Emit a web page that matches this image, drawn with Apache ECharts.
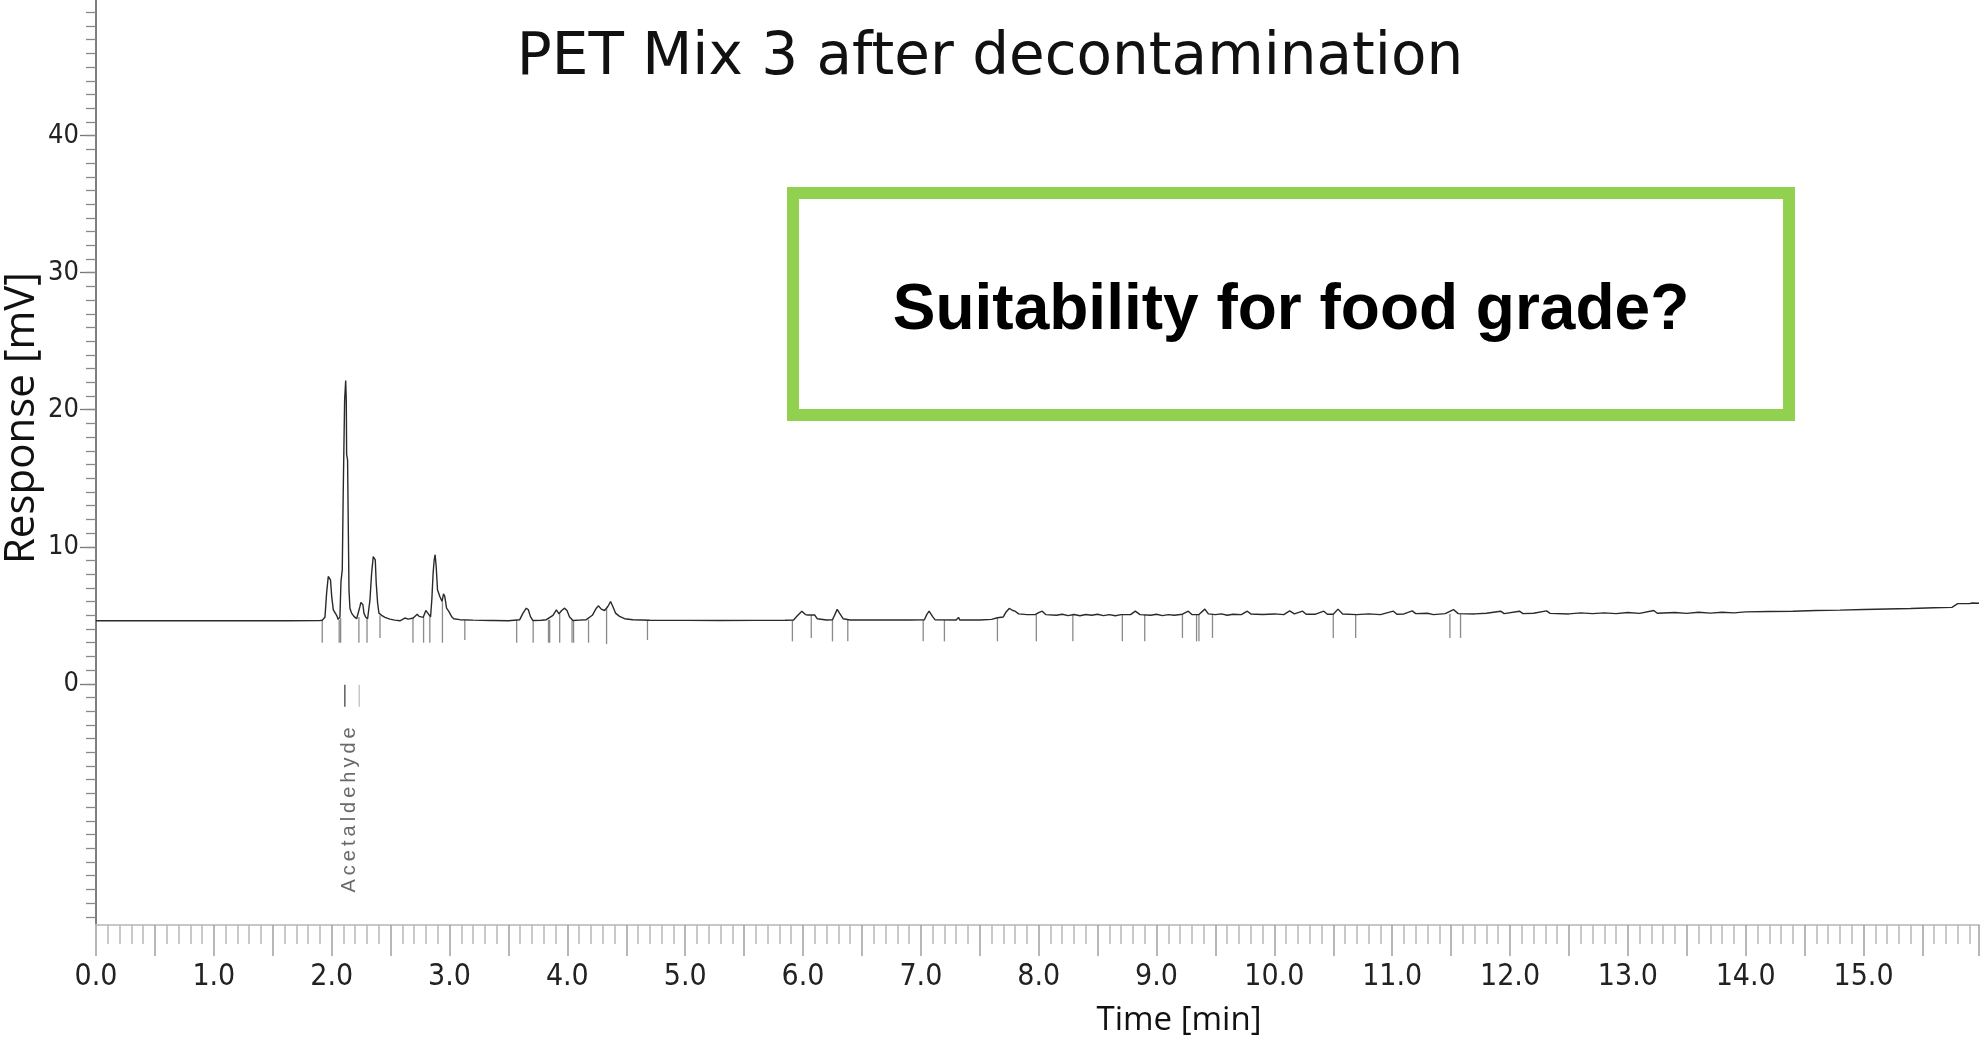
<!DOCTYPE html>
<html>
<head>
<meta charset="utf-8">
<title>PET Mix 3 after decontamination</title>
<script src="https://cdn.jsdelivr.net/npm/echarts@6.0.0/dist/echarts.min.js"></script>
<style>
  html, body { margin: 0; padding: 0; background: #fff; }
  #chart { width: 1982px; height: 1041px; }
</style>
</head>
<body>
<div id="chart"></div>
<script>
// chromatogram trace (time in min, response in mV)
const timeMin = [
  0, 0.25, 0.26, 0.27, 0.6, 0.61, 0.62, 0.95, 0.96, 0.97, 1.3, 1.31, 1.32, 1.6, 1.61, 1.62, 1.9,
  1.92, 1.943, 1.957, 1.971, 1.98, 1.99, 2.0, 2.014, 2.042, 2.055, 2.064,
  2.07, 2.079, 2.09, 2.098, 2.11, 2.119, 2.124, 2.127, 2.135, 2.141, 2.147, 2.155, 2.169, 2.189, 2.212,
  2.226, 2.24, 2.248, 2.257, 2.265, 2.274, 2.288, 2.305,
  2.313, 2.325, 2.339, 2.353, 2.361, 2.37, 2.378, 2.39, 2.401, 2.424, 2.452, 2.494, 2.536, 2.579, 2.621, 2.65,
  2.692, 2.726, 2.742, 2.777, 2.799, 2.816, 2.839,
  2.85, 2.861, 2.87, 2.878, 2.887, 2.898, 2.918, 2.937, 2.949, 2.96, 2.975, 2.994, 3.017, 3.036, 3.087,
  3.2, 3.35, 3.36, 3.37, 3.5,
  3.596, 3.624, 3.652, 3.669, 3.686, 3.708, 3.78,
  3.822, 3.878, 3.907, 3.929, 3.952, 3.977, 3.997, 4.019, 4.048, 4.1,
  4.161, 4.212, 4.246, 4.263, 4.288, 4.316, 4.344, 4.367, 4.386, 4.409, 4.443, 4.486, 4.556,
  4.7, 5.0, 5.3, 5.6, 5.85,
  5.92, 5.95, 5.99, 6.02, 6.04, 6.1, 6.12, 6.2,
  6.25, 6.27, 6.29, 6.31, 6.34, 6.4,
  6.9, 7.03, 7.05, 7.07, 7.1, 7.12,
  7.3, 7.32, 7.33, 7.5, 7.6, 7.65, 7.7,
  7.72, 7.75, 7.78, 7.8, 7.83, 7.9, 7.97, 8.0, 8.03, 8.06,
  8.15, 8.2, 8.25, 8.3, 8.35, 8.4, 8.45, 8.5, 8.55, 8.6, 8.65, 8.7, 8.78, 8.82, 8.86, 8.95,
  9.0, 9.05, 9.1, 9.15, 9.22, 9.27, 9.3, 9.36, 9.41, 9.44, 9.5, 9.55, 9.6, 9.65, 9.72, 9.77, 9.8, 9.9,
  10.0, 10.08, 10.13, 10.17, 10.24, 10.27, 10.35, 10.42, 10.45, 10.5, 10.54, 10.58, 10.7, 10.8, 10.9,
  11.01, 11.04, 11.1, 11.17, 11.2, 11.3, 11.35, 11.45, 11.52, 11.56, 11.7, 11.8, 11.92, 11.95,
  12.08, 12.11, 12.2, 12.31, 12.34, 12.5, 12.6, 12.7, 12.8, 12.9,
  13.0, 13.1, 13.22, 13.25, 13.4, 13.5, 13.6, 13.7, 13.8, 13.9,
  14.0, 14.2, 14.4, 14.6, 14.8, 15.0, 15.2, 15.4, 15.6, 15.75, 15.8, 15.9, 15.92, 15.98
];
const responseMv = [
  4.6, 4.6, 4.74, 4.6, 4.6, 4.72, 4.6, 4.6, 4.74, 4.6, 4.6, 4.71, 4.6, 4.6, 4.73, 4.6, 4.62,
  4.64, 4.85, 6.62, 7.83, 7.96, 7.59, 6.4, 5.4, 5.0, 4.7, 4.65,
  4.88, 7.47, 8.32, 13.92, 20.73, 22.14, 20.73, 16.72, 16.35, 11.48, 6.86, 5.52, 5.16, 4.92, 4.75,
  4.88, 5.64, 5.94, 6.01, 5.77, 5.16, 4.88, 4.75,
  4.88, 6.13, 8.08, 9.29, 9.42, 9.05, 7.35, 5.89, 5.16, 5.0, 4.85, 4.72, 4.65, 4.6, 4.8, 4.72,
  4.8, 5.08, 4.92, 4.85, 5.35, 5.16, 4.88,
  6.13, 8.08, 9.05, 9.42, 8.56, 6.86, 6.37, 6.01, 6.57, 6.37, 5.52, 5.28, 4.92, 4.75, 4.68,
  4.65, 4.62, 4.72, 4.62, 4.6,
  4.68, 5.16, 5.52, 5.4, 4.92, 4.62, 4.64,
  4.68, 5.0, 5.4, 5.11, 5.35, 5.52, 5.35, 4.88, 4.62, 4.65,
  4.68, 5.0, 5.52, 5.69, 5.45, 5.35, 5.64, 6.01, 5.64, 5.16, 4.92, 4.75, 4.68,
  4.64, 4.63, 4.62, 4.63, 4.64,
  4.66, 4.95, 5.3, 5.05, 5.02, 5.02, 4.75, 4.66,
  4.68, 5.05, 5.43, 5.15, 4.75, 4.66,
  4.66, 4.68, 5.05, 5.3, 4.9, 4.68,
  4.66, 4.85, 4.66, 4.66, 4.7, 4.82, 4.88,
  5.2, 5.5, 5.35, 5.3, 5.1, 5.05, 5.05, 5.2, 5.3, 5.05,
  5.0, 5.08, 4.98, 5.06, 4.97, 5.06, 5.0, 5.08, 4.98, 5.05, 4.97, 5.05, 5.05, 5.3, 5.05, 5.0,
  5.08, 4.98, 5.05, 5.0, 5.08, 5.3, 5.05, 5.05, 5.45, 5.1, 5.05, 5.1, 5.0, 5.08, 5.05, 5.3, 5.1, 5.06,
  5.1, 5.05, 5.32, 5.1, 5.3, 5.08, 5.08, 5.3, 5.08, 5.08, 5.45, 5.1, 5.05, 5.1, 5.05,
  5.3, 5.08, 5.1, 5.32, 5.12, 5.15, 5.05, 5.12, 5.42, 5.12, 5.1, 5.15, 5.3, 5.12,
  5.3, 5.12, 5.15, 5.32, 5.14, 5.1, 5.18, 5.12, 5.18, 5.12,
  5.2, 5.14, 5.35, 5.15, 5.2, 5.14, 5.22, 5.16, 5.22, 5.18,
  5.25, 5.28, 5.3, 5.35, 5.38, 5.42, 5.46, 5.5, 5.55, 5.58, 5.85, 5.85, 5.9, 5.88
];

// integration markers below the trace
const markerTimes = [1.92, 2.064, 2.076, 2.231, 2.30, 2.41, 2.69, 2.78, 2.833, 2.94, 3.13,
  3.57, 3.71, 3.84, 3.85, 3.935, 4.04, 4.053, 4.18, 4.333, 4.68,
  5.91, 6.07, 6.25, 6.38, 7.02, 7.20, 7.65, 7.98, 8.29, 8.71, 8.90,
  9.22, 9.34, 9.36, 9.475, 10.50, 10.69, 11.49, 11.58];
const markerTops = [4.64, 4.65, 4.8, 4.88, 4.75, 5.0, 4.8, 4.85, 4.88, 6.0, 4.68,
  4.68, 4.64, 4.68, 4.68, 5.1, 4.64, 4.62, 4.68, 5.5, 4.66,
  4.66, 5.0, 4.68, 4.66, 4.68, 4.66, 4.82, 5.05, 5.06, 5.05, 5.05,
  5.08, 5.05, 5.05, 5.05, 5.08, 5.05, 5.12, 5.12];
const markerBottoms = [3.0, 3.0, 3.0, 3.0, 3.0, 3.35, 3.0, 3.0, 3.0, 3.0, 3.2,
  3.0, 3.0, 3.0, 3.0, 3.0, 3.0, 3.0, 3.0, 2.9, 3.2,
  3.1, 3.35, 3.1, 3.1, 3.1, 3.1, 3.1, 3.1, 3.1, 3.1, 3.1,
  3.35, 3.1, 3.1, 3.35, 3.35, 3.35, 3.35, 3.35];

// peak label
const peakName = 'Acetaldehyde';
const peakLabelTime = 2.155;
const peakLabelMv = -9.2;
const peakTickTimes = [2.112, 2.234];
const peakTickTop = -0.07;
const peakTickBottom = -1.68;

// axis ticks
const yLabelValues = [0, 10, 20, 30, 40];
const yMinorValues = [];
for (let v = -17; v <= 49; v++) yMinorValues.push(v);

const traceData = timeMin.map((t, i) => [t, responseMv[i]]);
const markerData = markerTimes.map((t, i) => [t, markerTops[i], markerBottoms[i]]);
const peakTickData = peakTickTimes.map(t => [t, peakTickTop, peakTickBottom]);

const narrowFont = "'Liberation Sans Narrow', 'DejaVu Sans Condensed', sans-serif";

function vLine(color) {
  return function (params, api) {
    const p1 = api.coord([api.value(0), api.value(1)]);
    const p2 = api.coord([api.value(0), api.value(2)]);
    return {
      type: 'line',
      shape: { x1: p1[0], y1: p1[1], x2: p2[0], y2: p2[1] },
      style: { stroke: color[params.dataIndex % color.length], lineWidth: 1.3 }
    };
  };
}

const chart = echarts.init(document.getElementById('chart'));
chart.setOption({
  animation: false,
  backgroundColor: '#fff',
  grid: { left: 96, right: 0, top: 0, bottom: 116 },
  xAxis: {
    type: 'value',
    min: 0,
    max: 15.98,
    interval: 0.5,
    axisLine: { onZero: false, lineStyle: { color: '#c8c8c8', width: 2 } },
    axisTick: { length: 31, lineStyle: { color: '#a0a0a0', width: 1.5 } },
    minorTick: { show: true, splitNumber: 5, length: 19, lineStyle: { color: '#b8b8b8', width: 1.5 } },
    axisLabel: {
      margin: 37,
      fontFamily: narrowFont,
      fontSize: 30,
      color: '#222',
      formatter: v => (Math.abs(v - Math.round(v)) < 1e-6 ? v.toFixed(1) : '')
    },
    splitLine: { show: false }
  },
  yAxis: [
    {
      type: 'value',
      min: -17.6,
      max: 49.9,
      position: 'left',
      axisLine: { show: true, lineStyle: { color: '#555', width: 1.5 } },
      axisTick: { show: true, customValues: yLabelValues, length: 16, lineStyle: { color: '#777', width: 1.3 } },
      axisLabel: {
        customValues: yLabelValues,
        margin: 17,
        fontFamily: narrowFont,
        fontSize: 27,
        color: '#222'
      },
      splitLine: { show: false }
    },
    {
      type: 'value',
      min: -17.6,
      max: 49.9,
      position: 'left',
      axisLine: { show: false },
      axisTick: { show: true, customValues: yMinorValues, length: 10, lineStyle: { color: '#888', width: 1.3 } },
      axisLabel: { show: false },
      splitLine: { show: false }
    }
  ],
  series: [
    {
      name: 'markers',
      type: 'custom',
      renderItem: vLine(['#8a8a8a']),
      data: markerData,
      silent: true
    },
    {
      name: 'trace',
      type: 'line',
      data: traceData,
      showSymbol: false,
      lineStyle: { color: '#2a2a2a', width: 1.4 },
      silent: true
    },
    {
      name: 'peak ticks',
      type: 'custom',
      renderItem: vLine(['#444', '#c0c0c0']),
      data: peakTickData,
      silent: true
    },
    {
      name: 'peak label',
      type: 'scatter',
      symbolSize: 0,
      data: [[peakLabelTime, peakLabelMv]],
      label: {
        show: true,
        position: 'inside',
        rotate: 90,
        formatter: peakName.split('').join('\u2009'),
        fontFamily: "'Liberation Sans', Arial, sans-serif",
        fontSize: 20,
        color: '#444'
      },
      silent: true
    }
  ],
  graphic: [
    {
      type: 'text',
      x: 990,
      y: 59,
      style: {
        text: 'PET Mix 3 after decontamination',
        fontFamily: "'DejaVu Sans', sans-serif",
        fontSize: 58,
        fill: '#111',
        align: 'center',
        verticalAlign: 'middle'
      }
    },
    {
      type: 'rect',
      shape: { x: 793, y: 193, width: 996, height: 222 },
      style: { fill: 'none', stroke: '#92D050', lineWidth: 12 }
    },
    {
      type: 'text',
      x: 1291,
      y: 311,
      style: {
        text: 'Suitability for food grade?',
        fontFamily: "'Liberation Sans', Arial, sans-serif",
        fontWeight: 'bold',
        fontSize: 64,
        fill: '#000',
        align: 'center',
        verticalAlign: 'middle'
      }
    },
    {
      type: 'text',
      x: 1179,
      y: 1021,
      style: {
        text: 'Time [min]',
        fontFamily: "'Open Sans', sans-serif",
        fontSize: 33,
        fill: '#111',
        align: 'center',
        verticalAlign: 'middle'
      }
    },
    {
      type: 'text',
      x: 22,
      y: 418,
      rotation: Math.PI / 2,
      style: {
        text: 'Response [mV]',
        fontFamily: "'Open Sans', sans-serif",
        fontSize: 42,
        fill: '#111',
        align: 'center',
        verticalAlign: 'middle'
      }
    }
  ]
});
</script>
</body>
</html>
